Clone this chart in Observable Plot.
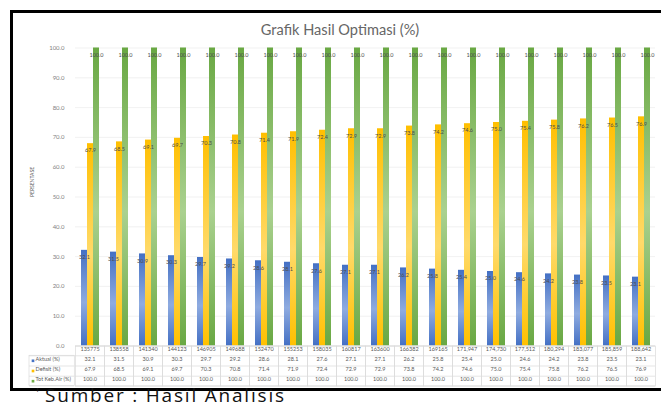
<!DOCTYPE html>
<html><head><meta charset="utf-8">
<script src="https://cdn.jsdelivr.net/npm/d3@7"></script>
<script src="https://cdn.jsdelivr.net/npm/@observablehq/plot@0.6"></script>
<style>
html,body{margin:0;padding:0;background:#fff;}
#wrap{position:relative;width:661px;height:403px;overflow:hidden;background:#fff;font-family:Lato,"Open Sans",sans-serif;}
#border{position:absolute;left:10px;top:9.5px;width:700px;height:375.5px;border:3px solid #000;background:#fff;}
#title{position:absolute;left:0;width:680px;top:22px;text-align:center;font-size:14.6px;line-height:15px;color:#666;white-space:nowrap;}
#chart{position:absolute;left:0;top:0;}
#chart svg{max-width:none;}
#caption{position:absolute;left:45px;top:387.5px;height:15px;font-family:"Open Sans",sans-serif;font-size:19px;line-height:15px;letter-spacing:1.8px;color:#111;white-space:nowrap;}
#tick{position:absolute;left:36px;top:387px;height:12px;font-family:"Open Sans",sans-serif;font-size:14px;line-height:12px;color:#111;}
</style></head>
<body>
<div id="wrap">
  <div id="border"></div>
  <div id="title">Grafik Hasil Optimasi (%)</div>
  <div id="chart"></div>
  <div id="tick">'</div>
  <div id="caption">Sumber : Hasil Analisis</div>
</div>
<script>
const categories = ["135775","138558","141340","144123","146905","149688","152470","155253","158035","160817","163600","166382","169165","171,947","174,730","177,512","180,294","183,077","185,859","188,642"];
const aktual    = [32.1,31.5,30.9,30.3,29.7,29.2,28.6,28.1,27.6,27.1,27.1,26.2,25.8,25.4,25.0,24.6,24.2,23.8,23.5,23.1];
const defisit   = [67.9,68.5,69.1,69.7,70.3,70.8,71.4,71.9,72.4,72.9,72.9,73.8,74.2,74.6,75.0,75.4,75.8,76.2,76.5,76.9];
const totKebAir = [100.0,100.0,100.0,100.0,100.0,100.0,100.0,100.0,100.0,100.0,100.0,100.0,100.0,100.0,100.0,100.0,100.0,100.0,100.0,100.0];
const seriesNames = ["Aktual (%)","Defisit (%)","Tot Keb.Air (%)"];
const yTicks = [0,10,20,30,40,50,60,70,80,90,100];
const yLabel = "PERSENTASE";

const seriesValues = [aktual, defisit, totKebAir];
const swatch = ["#4472c4","#ffc000","#70ad47"];
const grads = [
  ["#4470c4","#8eabe0","#4470c4"],
  ["#ffbf00","#ffda6a","#ffc000"],
  ["#69a843","#aad18f","#69a843"]
];
const seriesData = seriesValues.map((vals,s)=>categories.map((c,i)=>({cat:c, series:seriesNames[s], value:vals[i]})));
const rows = categories.map((c,i)=>({cat:c, i}));

const W=662, H=392, ML=68, MT=47.5, MB=46.5;
const frameH = H - MT - MB;
const bw = (W - ML) / categories.length;
const rowB = [0, 9.8, 20, 30.2, 40];
const rowC = [4.5, 14.8, 25, 35.2];
const gridC = "#dadada";

const marks = [];
marks.push(Plot.ruleY(yTicks, {stroke:"#ededed", strokeWidth:0.8}));
seriesData.forEach((d,s)=>{
  marks.push(Plot.barY(d, {fx:"cat", x:"series", y:"value", fill:`url(#grad${s})`}));
});
seriesData.forEach((d,s)=>{
  marks.push(Plot.text(d, {fx:"cat", x:"series", y:"value", text:v=>v.value.toFixed(1), dy:7, fontSize:5.5, fill:"#4d4d4d"}));
});
// table cells
rowB.forEach(b=>marks.push(Plot.ruleY([0], {dy:b, stroke:gridC, strokeWidth:0.7})));
marks.push(Plot.frame({stroke:gridC, strokeWidth:0.7, insetTop:frameH, insetBottom:-rowB[4]}));
marks.push(Plot.text(rows, {fx:"cat", text:"cat", frameAnchor:"bottom", dy:rowC[0], fontSize:5.5, fill:"#595959"}));
seriesValues.forEach((vals,s)=>{
  marks.push(Plot.text(rows, {fx:"cat", text:r=>vals[r.i].toFixed(1), frameAnchor:"bottom", dy:rowC[s+1], fontSize:5.5, fill:"#595959"}));
});
// legend column of the data table (left of first column)
const first = () => categories[0];
rowB.slice(1).forEach(b=>marks.push(Plot.ruleY([0], {fx:first, dy:b, insetLeft:-46, insetRight:bw, stroke:gridC, strokeWidth:0.7})));
marks.push(Plot.rect([0], {fx:first, insetLeft:-46, insetRight:bw, insetTop:frameH+rowB[1], insetBottom:-rowB[4], fill:"none", stroke:gridC, strokeWidth:0.7}));
seriesNames.forEach((n,s)=>{
  marks.push(Plot.dot([n], {fx:first, frameAnchor:"bottom-left", dx:-42.5, dy:rowC[s+1], symbol:"square", r:1.5, fill:swatch[s], stroke:null}));
  marks.push(Plot.text([n], {fx:first, frameAnchor:"bottom-left", text:d=>d, textAnchor:"start", dx:-40, dy:rowC[s+1], fontSize:5.5, fill:"#595959"}));
});
marks.push(Plot.text([yLabel], {fx:first, frameAnchor:"left", text:d=>d, rotate:-90, dx:-43, fontSize:5, fill:"#595959"}));

const plot = Plot.plot({
  width:W, height:H, marginLeft:ML, marginRight:0, marginTop:MT, marginBottom:MB,
  style:{background:"transparent", fontFamily:"Lato, sans-serif", fontSize:"6px", color:"#7f7f7f", overflow:"visible"},
  fx:{domain:categories, padding:0, axis:null, label:null},
  x:{domain:seriesNames, paddingInner:0, paddingOuter:0.67, axis:null, label:null},
  y:{domain:[0,100], ticks:yTicks, tickFormat:d3.format(".1f"), tickSize:0, tickPadding:11, label:null},
  marks
});
document.getElementById("chart").appendChild(plot);
const svg = d3.select(plot.tagName.toLowerCase()==="svg" ? plot : plot.querySelector("svg"));
const defs = svg.insert("defs", ":first-child");
grads.forEach((g,s)=>{
  const lg = defs.append("linearGradient").attr("id",`grad${s}`).attr("x1",0).attr("y1",0).attr("x2",0).attr("y2",1);
  lg.append("stop").attr("offset","0%").attr("stop-color",g[0]);
  lg.append("stop").attr("offset","55%").attr("stop-color",g[1]);
  lg.append("stop").attr("offset","100%").attr("stop-color",g[2]);
});
</script>
</body></html>
